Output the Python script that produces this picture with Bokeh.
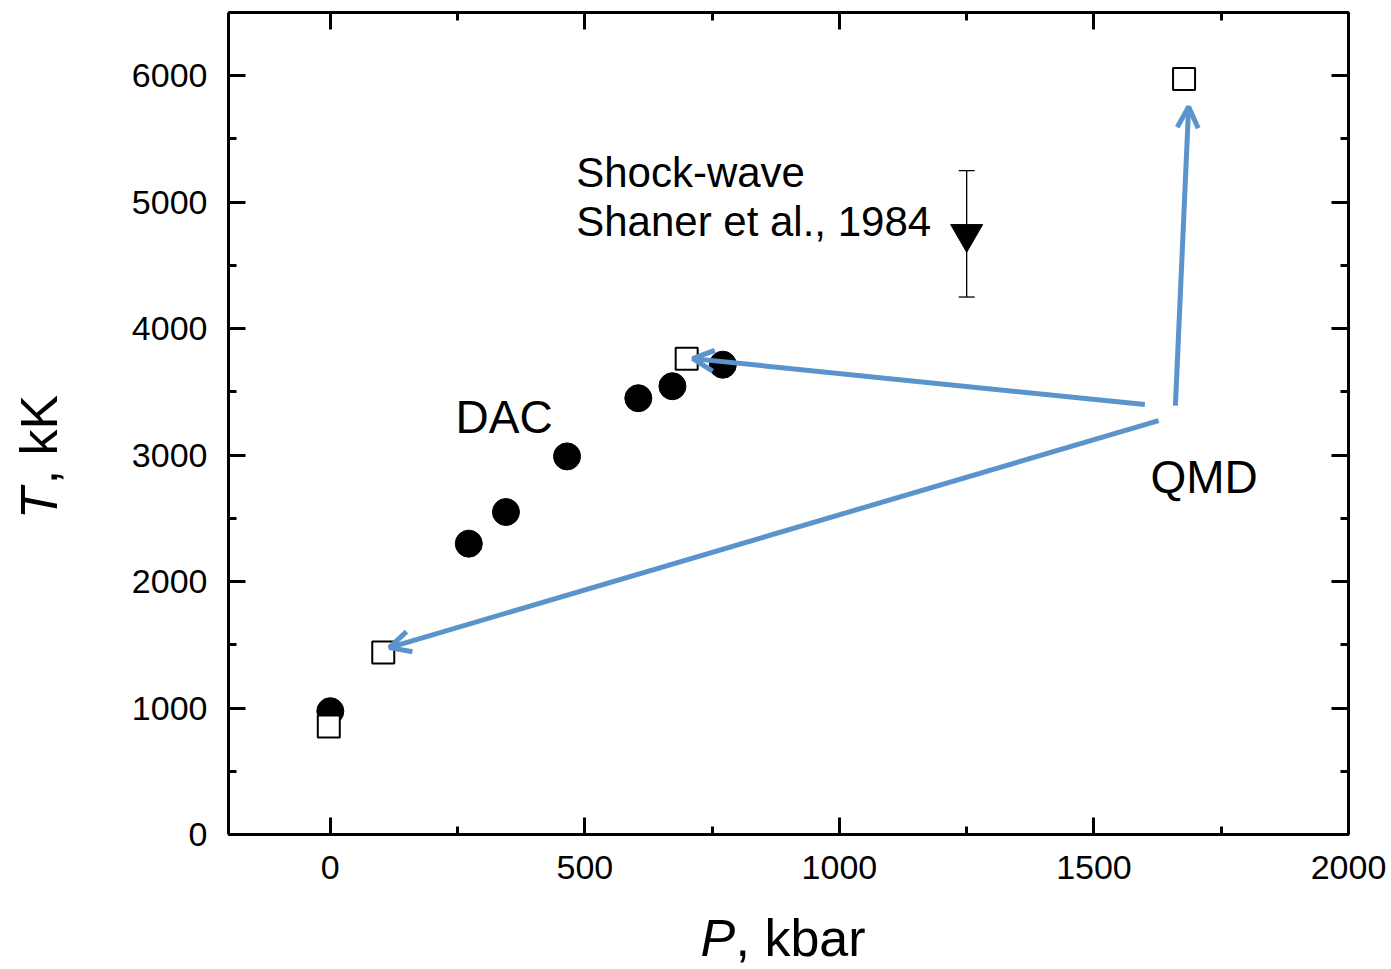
import math
from bokeh.plotting import figure
from bokeh.models import (ColumnDataSource, LinearAxis, SingleIntervalTicker, Range1d,
                          Label, Arrow, OpenHead, Whisker, TeeHead, CustomJSTickFormatter)
from bokeh.embed import file_html
from bokeh.resources import INLINE

# ---- data ----
dac_p = [0, 272, 345, 465, 605, 672, 771]
dac_t = [975, 2300, 2550, 2990, 3450, 3545, 3715]

qmd_p = [-3, 104, 700, 1677]
qmd_t = [855, 1440, 3763, 5975]

shock_p = [1250]
shock_t = [4750]
shock_err = [500]

# annotation arrows (QMD label -> QMD points)
arrow_tail_p = [1600, 1627, 1660]
arrow_tail_t = [3400, 3273, 3391]
arrow_head_p = [712, 116, 1686]
arrow_head_t = [3763, 1478, 5755]

# axis extents (the drawn box)
x_bounds = (-200, 2000)
y_bounds = (0, 6500)

W, H = 1391, 969
BOX_L, BOX_R, BOX_T, BOX_B = 228, 1348, 12, 834   # box position on the page (px)

FONT = "Liberation Sans"
BLUE = "#5b93cc"

# the frame covers the whole page so that axis titles outside the box are not clipped
sx = (BOX_R - BOX_L) / (x_bounds[1] - x_bounds[0])
sy = (BOX_B - BOX_T) / (y_bounds[1] - y_bounds[0])
x_full = (x_bounds[0] - BOX_L / sx, x_bounds[1] + (W - BOX_R) / sx)
y_full = (y_bounds[0] - (H - BOX_B) / sy, y_bounds[1] + BOX_T / sy)

p = figure(width=W, height=H, x_range=Range1d(*x_full), y_range=Range1d(*y_full),
           output_backend="svg", toolbar_location=None,
           x_axis_location=None, y_axis_location=None, min_border=0)
p.grid.visible = False
p.outline_line_color = None
p.background_fill_color = "white"
p.border_fill_color = "white"


def make_axis(ticker_interval, bounds, loc, show_labels, standoff):
    ax = LinearAxis(fixed_location=loc, bounds=bounds,
                    ticker=SingleIntervalTicker(interval=ticker_interval, num_minor_ticks=2))
    ax.axis_line_width = 3
    ax.axis_line_color = "black"
    ax.major_tick_in = 17
    ax.major_tick_out = 0
    ax.minor_tick_in = 8
    ax.minor_tick_out = 0
    ax.major_tick_line_width = 3
    ax.minor_tick_line_width = 3
    ax.major_tick_line_color = "black"
    ax.minor_tick_line_color = "black"
    ax.axis_label = None
    if show_labels:
        ax.major_label_text_font = FONT
        ax.major_label_text_font_size = "34px"
        ax.major_label_text_color = "black"
        ax.major_label_standoff = standoff
    else:
        ax.formatter = CustomJSTickFormatter(code="return ''")
        ax.major_label_text_font_size = "0px"
        ax.major_label_standoff = 0
    return ax


p.add_layout(make_axis(500, x_bounds, y_bounds[0], True, 21), "below")
p.add_layout(make_axis(500, x_bounds, y_bounds[1], False, 0), "above")
p.add_layout(make_axis(1000, y_bounds, x_bounds[0], True, 21), "left")
p.add_layout(make_axis(1000, y_bounds, x_bounds[1], False, 0), "right")

# error bar for shock-wave point
src_shock = ColumnDataSource(dict(
    x=shock_p, y=shock_t,
    lo=[t - e for t, e in zip(shock_t, shock_err)],
    hi=[t + e for t, e in zip(shock_t, shock_err)]))
p.add_layout(Whisker(source=src_shock, base="x", lower="lo", upper="hi", dimension="height",
                     line_color="black", line_width=1.3,
                     lower_head=TeeHead(size=16, line_width=1.3, line_color="black"),
                     upper_head=TeeHead(size=16, line_width=1.3, line_color="black")))
p.scatter(x="x", y="y", source=src_shock, marker="inverted_triangle", size=32,
          fill_color="black", line_color="black")

# DAC filled circles
p.scatter(dac_p, dac_t, marker="circle", size=27, fill_color="black", line_color="black")
# QMD open squares
p.scatter(qmd_p, qmd_t, marker="square", size=22, fill_color="white", line_color="black",
          line_width=2)

# arrows
for xs, ys, xe, ye in zip(arrow_tail_p, arrow_tail_t, arrow_head_p, arrow_head_t):
    p.add_layout(Arrow(x_start=xs, y_start=ys, x_end=xe, y_end=ye,
                       line_color=BLUE, line_width=5,
                       end=OpenHead(size=21, line_width=5, line_color=BLUE)))


# text annotations
def lab(x, y, text, size, align="left", style="normal", angle=0.0):
    p.add_layout(Label(x=x, y=y, text=text, text_font=FONT, text_font_size=size,
                       text_align=align, text_baseline="middle", text_font_style=style,
                       text_color="black", angle=angle))


lab(483, 5233, "Shock-wave", "42px")
lab(483, 4846, "Shaner et al., 1984", "42px")
lab(246, 3299, "DAC", "46px")
lab(1611, 2826, "QMD", "46px")

# axis titles (italic variable + upright unit)
lab(727, -815, "P", "52px", style="italic")
lab(796, -815, ", kbar", "52px")
lab(-572, 2492, "T", "52px", style="italic", angle=math.pi / 2)
lab(-572, 2769, ", kK", "52px", angle=math.pi / 2)

open("out.html", "w").write(file_html(p, INLINE))
